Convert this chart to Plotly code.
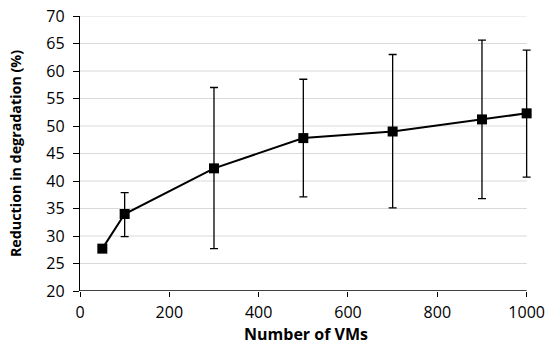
import plotly.graph_objects as go

vms = [50, 100, 300, 500, 700, 900, 1000]
reduction = [27.7, 34.0, 42.3, 47.8, 49.0, 51.2, 52.3]
err_high = [27.7, 37.9, 57.0, 58.5, 63.0, 65.6, 63.8]
err_low = [27.7, 29.9, 27.7, 37.1, 35.1, 36.8, 40.7]
x_ticks = [0, 200, 400, 600, 800, 1000]
y_ticks = [20, 25, 30, 35, 40, 45, 50, 55, 60, 65, 70]

plus = [h - v for h, v in zip(err_high, reduction)]
minus = [v - l for v, l in zip(reduction, err_low)]

fig = go.Figure(go.Scatter(
    x=vms, y=reduction, mode="lines+markers",
    line=dict(color="black", width=2),
    marker=dict(symbol="square", size=10, color="black"),
    error_y=dict(type="data", symmetric=False, array=plus, arrayminus=minus,
                 color="black", thickness=1.3, width=4),
    cliponaxis=False,
    showlegend=False,
))

x_end = x_ticks[-1]
x_pad = 12  # small extra room so the last error bar cap is not clipped

# horizontal gridlines ending at the last x tick
for v in y_ticks[1:]:
    fig.add_shape(type="line", xref="x", yref="y", x0=x_ticks[0], x1=x_end, y0=v, y1=v,
                  line=dict(color="#d9d9d9", width=1), layer="below")
# x axis line ending at the last x tick
fig.add_shape(type="line", xref="x", yref="y", x0=x_ticks[0], x1=x_end,
              y0=y_ticks[0], y1=y_ticks[0], line=dict(color="black", width=1.3), layer="above")

fig.update_layout(
    width=547, height=345,
    margin=dict(l=80, r=547 - 80 - int(round(447 * (x_end + x_pad) / x_end)), t=16, b=54),
    paper_bgcolor="white", plot_bgcolor="white",
    font=dict(family="Open Sans, Lato, sans-serif", color="black", size=16),
)
fig.update_xaxes(
    range=[0, x_end + x_pad], tickvals=x_ticks,
    showgrid=False, zeroline=False, automargin=False, showline=False,
    ticks="outside", ticklen=5, tickcolor="black", ticklabelstandoff=2,
    ticklabeloverflow="allow",
    title=dict(text="<b>Number of VMs</b>", font=dict(size=16), standoff=2),
)
fig.update_yaxes(
    range=[y_ticks[0], y_ticks[-1]], tickvals=y_ticks,
    showgrid=False, zeroline=False, automargin=False,
    showline=True, linecolor="black", linewidth=1.3,
    ticks="outside", ticklen=6, tickcolor="black", ticklabelstandoff=5,
    ticklabeloverflow="allow",
    title=dict(text="<b>Reduction in degradation (%)</b>", font=dict(size=14.3), standoff=21),
)
fig.write_html("out.html", config={"displayModeBar": False},
               post_script="document.body.style.margin='0';")
